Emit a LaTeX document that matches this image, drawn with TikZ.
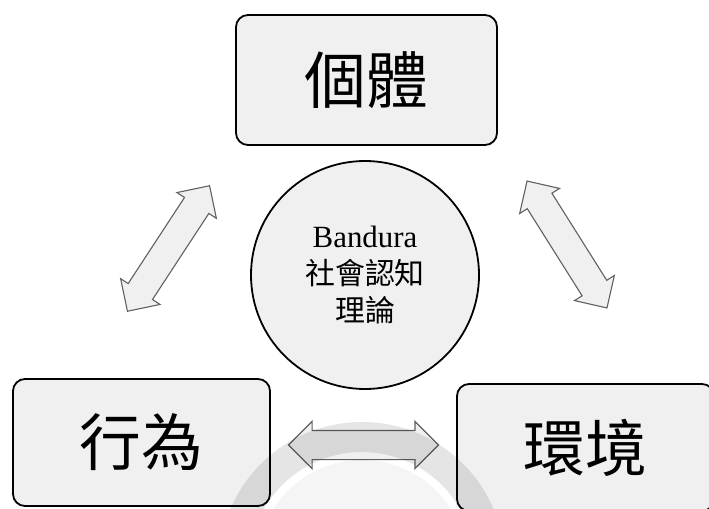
\documentclass[tikz,border=0pt]{standalone}
\usepackage{fontspec}
\newfontfamily\cjk{Noto Sans CJK TC}
\newfontfamily\latinserif{Liberation Serif}
\usetikzlibrary{shapes.arrows,calc}
\definecolor{boxfill}{RGB}{240,240,240}
\definecolor{arrowline}{RGB}{96,96,96}

\begin{document}
\begin{tikzpicture}[x=1bp,y=-1bp,
  box/.style={rectangle,rounded corners=12bp,draw,line width=1.8bp,fill=boxfill,inner sep=0pt,font=\cjk\fontsize{62}{70}\selectfont},
  twoway/.style={double arrow,draw=arrowline,line width=1.1bp,fill=boxfill,minimum width=46bp,double arrow head extend=9bp,minimum height=150bp,inner xsep=0pt,inner ysep=14bp}]
\useasboundingbox (0,0) rectangle (709,509);
\node[box,minimum width=261bp,minimum height=130bp] (person) at (366.5,80) {個體};
\node[box,minimum width=257bp,minimum height=127bp] (behav) at (141.5,442.5) {行為};
\node[box,minimum width=257bp,minimum height=127bp] (env) at (585.5,447.5) {環境};
\node[circle,draw,line width=1.8bp,fill=boxfill,minimum size=228bp,align=center,font=\fontsize{30}{37}\selectfont] (theory) at (365,275) {{\latinserif\fontsize{31}{37}\selectfont Bandura}\\ \cjk 社會認知\\ \cjk 理論};
\node[twoway,rotate=56.8] (pb) at (168.5,248.5) {};
\node[twoway,rotate=-57.8] (pe) at (567,244.5) {};
\node[twoway] (be) at ($(behav)!0.5!(env)$) {};
% faint seal in the background
\fill[black,opacity=0.1,even odd rule] (362,565) circle[radius=143] (362,565) circle[radius=113];
\fill[black,opacity=0.04] (362,565) circle[radius=105];
\end{tikzpicture}
\end{document}
